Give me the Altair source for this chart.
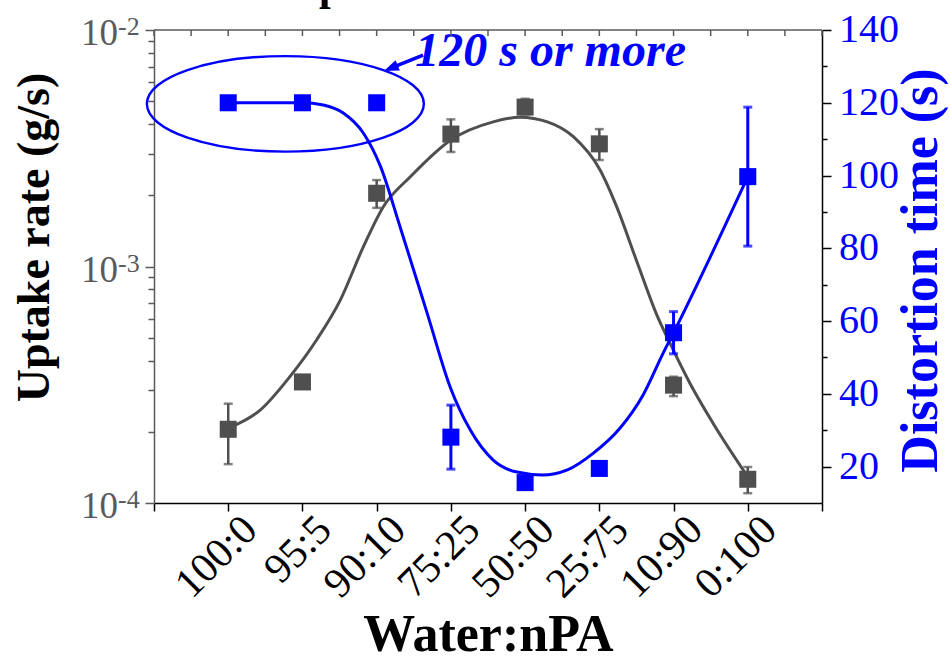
import altair as alt
import pandas as pd

# Water:nPA mixing ratios, placed at positions 1..8 on a 0..9 axis
ratios = ["100:0", "95:5", "90:10", "75:25", "50:50", "25:75", "10:90", "0:100"]
positions = [1, 2, 3, 4, 5, 6, 7, 8]

# Uptake rate (g/s) with error-bar limits
uptake = [2.05e-4, 3.25e-4, 2.04e-3, 3.63e-3, 4.72e-3, 3.30e-3, 3.15e-4, 1.26e-4]
uptake_hi = [2.63e-4, 3.38e-4, 2.32e-3, 4.19e-3, 5.12e-3, 3.81e-3, 3.42e-4, 1.42e-4]
uptake_lo = [1.46e-4, 3.12e-4, 1.77e-3, 3.05e-3, 4.40e-3, 2.82e-3, 2.83e-4, 1.10e-4]

# Distortion time (s) with symmetric errors
distortion = [120, 120, 120, 28.1, 15.6, 19.5, 56.8, 99.7]
distortion_err = [0, 0, 0, 8.8, 0, 0, 5.8, 19.1]

# Trend curves
uptake_fit_x = [1.00, 1.43, 1.83, 2.19, 2.51, 2.82, 3.09, 3.45, 4.00, 4.57, 4.93,
                5.30, 5.65, 6.01, 6.24, 6.51, 6.78, 6.95, 7.22, 7.53, 8.00]
uptake_fit_y = [2.07e-4, 2.47e-4, 3.42e-4, 4.89e-4, 7.21e-4, 1.21e-3, 1.79e-3, 2.39e-3,
                3.43e-3, 4.09e-3, 4.28e-3, 4.09e-3, 3.54e-3, 2.56e-3, 1.77e-3, 1.04e-3,
                6.18e-4, 4.75e-4, 3.21e-4, 2.18e-4, 1.29e-4]
distortion_fit_x = [1.00, 2.00, 2.28, 2.55, 2.82, 3.05, 3.32, 3.68, 3.99, 4.26, 4.57,
                    4.89, 5.23, 5.57, 5.92, 6.28, 6.59, 6.86, 7.00, 8.00]
distortion_fit_y = [120, 120, 119.4, 117.2, 111.7, 102.6, 85.6, 62.2, 41.9, 30.1, 21.8,
                    18.5, 17.7, 19.1, 23.7, 30.6, 39.7, 51.2, 56.8, 99.7]

# Axis tick positions and labels
decades = [1e-4, 1e-3, 1e-2]
decade_exp = ["-4", "-3", "-2"]
left_tick_values = [m * d for d in [1e-4, 1e-3] for m in range(1, 10)] + [1e-2]
right_tick_values = list(range(20, 141, 10))
right_label_values = list(range(20, 141, 20))
top_tick_values = [i / 2 for i in range(19)]

# Annotation around the capped (>=120 s) points
note_text = "120 s or more"
note_x, note_y = 3.52, 130.1
ring_x, ring_y = 1.77, 119.7
arrow_x = [3.625, 3.19]
arrow_y = [133.1, 129.5]
title_text = "Solvent uptake rate vs. distortion time"

W, H = 668, 473
GRAY = "#4f4f4f"
GRAY_AXIS = "#5a5a5a"
BLUE = "#0000ff"
FONT = "Liberation Serif"

pts = pd.DataFrame({
    "x": positions, "ratio": ratios,
    "uptake": uptake, "lo": uptake_lo, "hi": uptake_hi,
    "dist": distortion,
    "dlo": [d - e for d, e in zip(distortion, distortion_err)],
    "dhi": [d + e for d, e in zip(distortion, distortion_err)],
    "derr": distortion_err,
})
uptake_fit = pd.DataFrame({"x": uptake_fit_x, "uptake": uptake_fit_y})
dist_fit = pd.DataFrame({"x": distortion_fit_x, "dist": distortion_fit_y})
decade_df = pd.DataFrame({"v": decades, "exp": decade_exp})
right_lab_df = pd.DataFrame({"dist": right_label_values,
                             "t": [str(v) for v in right_label_values]})

x_axis = alt.Axis(
    values=list(range(10)), labels=False,
    tickSize=8, tickWidth=1.5, tickColor="black",
    domainColor="black", domainWidth=1.5, grid=False,
    title="Water:nPA", titleFont=FONT, titleFontSize=52, titleFontWeight="bold",
    titleColor="black", titleX=W / 2, titleY=147, titleBaseline="alphabetic",
)
x_scale = alt.Scale(domain=[0, 9], nice=False, zero=False)


def X(field="x"):
    return alt.X(f"{field}:Q", scale=x_scale, axis=x_axis)


left_scale = alt.Scale(type="log", domain=[1e-4, 1e-2], nice=False)
left_axis = alt.Axis(
    orient="left", values=left_tick_values, labels=False,
    tickSize={"condition": {"test": "datum.value == 0.0001 || datum.value == 0.001 || datum.value == 0.01",
                            "value": 9}, "value": 6},
    tickColor=GRAY_AXIS, tickWidth=1.5, domainColor=GRAY_AXIS, domainWidth=1.5, grid=False,
    title="Uptake rate (g/s)", titleFont=FONT, titleFontSize=46, titleFontWeight="bold",
    titleColor="black", titleAngle=270, titleX=-106, titleY=207,
    titleAlign="center", titleBaseline="alphabetic",
)


def YL(field):
    return alt.Y(f"{field}:Q", scale=left_scale, axis=left_axis)


right_scale = alt.Scale(domain=[10, 140], nice=False, zero=False)
right_axis = alt.Axis(
    orient="right", values=right_tick_values, labels=False,
    tickSize={"condition": {"test": "datum.value % 20 == 0", "value": 9}, "value": 5},
    tickColor="black", tickWidth=1.5, domainColor="black", domainWidth=1.5, grid=False,
    title="Distortion time (s)", titleFont=FONT, titleFontSize=52, titleFontWeight="bold",
    titleColor=BLUE, titleAngle=270, titleX=114, titleY=240,
    titleAlign="center", titleBaseline="alphabetic",
)


def YR(field):
    return alt.Y(f"{field}:Q", scale=right_scale, axis=right_axis)


# ---- uptake rate (left, log scale) ----
g_base = alt.Chart(pts)
g_line = alt.Chart(uptake_fit).mark_line(color=GRAY, strokeWidth=3, interpolate="monotone").encode(
    x=X(), y=YL("uptake"))
g_err = g_base.mark_rule(color=GRAY, strokeWidth=2.5).encode(x=X(), y=YL("lo"), y2="hi:Q")
g_cap_hi = g_base.mark_tick(orient="horizontal", size=9, thickness=2.5, color=GRAY).encode(
    x=X(), y=YL("hi"))
g_cap_lo = g_base.mark_tick(orient="horizontal", size=9, thickness=2.5, color=GRAY).encode(
    x=X(), y=YL("lo"))
g_pts = g_base.mark_square(size=290, color=GRAY, opacity=1).encode(x=X(), y=YL("uptake"))
dec_base = alt.Chart(decade_df)
dec_ten = dec_base.mark_text(text="10", align="right", baseline="alphabetic", dy=15,
                             font=FONT, fontSize=37, color=GRAY_AXIS).encode(
    x=alt.value(-36), y=YL("v"))
dec_exp = dec_base.mark_text(align="left", baseline="alphabetic", dy=5,
                             font=FONT, fontSize=26, color=GRAY_AXIS).encode(
    x=alt.value(-36), y=YL("v"), text="exp:N")
# slanted category labels under the x axis
x_labels = g_base.mark_text(align="right", baseline="middle", angle=315, xOffset=22,
                            font=FONT, fontSize=42, color="black").encode(
    x=X(), y=alt.value(H + 20), text="ratio:N")
left_group = alt.layer(g_line, g_err, g_cap_hi, g_cap_lo, g_pts, dec_ten, dec_exp, x_labels)

# ---- distortion time (right, linear scale) ----
b_err_df = pts[pts["derr"] > 0]
b_line = alt.Chart(dist_fit).mark_line(color=BLUE, strokeWidth=3, interpolate="monotone").encode(
    x=X(), y=YR("dist"))
b_err = alt.Chart(b_err_df).mark_rule(color=BLUE, strokeWidth=3).encode(
    x=X(), y=YR("dlo"), y2="dhi:Q")
b_cap_hi = alt.Chart(b_err_df).mark_tick(orient="horizontal", size=9, thickness=3, color=BLUE).encode(
    x=X(), y=YR("dhi"))
b_cap_lo = alt.Chart(b_err_df).mark_tick(orient="horizontal", size=9, thickness=3, color=BLUE).encode(
    x=X(), y=YR("dlo"))
b_pts = alt.Chart(pts).mark_square(size=290, color=BLUE, opacity=1).encode(x=X(), y=YR("dist"))
right_labels = alt.Chart(right_lab_df).mark_text(
    align="left", baseline="middle", font=FONT, fontSize=40, color=BLUE).encode(
    x=alt.value(W + 17), y=YR("dist"), text="t:N")

ellipse_path = ("M-1,0 C-1,-0.1905 -0.5523,-0.345 0,-0.345 C0.5523,-0.345 1,-0.1905 1,0 "
                "C1,0.1905 0.5523,0.345 0,0.345 C-0.5523,0.345 -1,0.1905 -1,0 Z")
ring = alt.Chart(pd.DataFrame({"x": [ring_x], "dist": [ring_y]})).mark_point(
    shape=ellipse_path, size=277 ** 2, filled=False, color=BLUE, strokeWidth=2.4, opacity=1).encode(
    x=X(), y=YR("dist"))
arrow_df = pd.DataFrame({"x": arrow_x, "dist": arrow_y})
arrow_line = alt.Chart(arrow_df).mark_line(color=BLUE, strokeWidth=3.5).encode(x=X(), y=YR("dist"))
arrow_head = alt.Chart(arrow_df.iloc[[1]]).mark_point(
    shape="M0,-1 L0.75,1 L-0.75,1 Z", size=15 ** 2, filled=True, color=BLUE, opacity=1,
    angle=248, strokeWidth=0).encode(x=X(), y=YR("dist"))
note = alt.Chart(pd.DataFrame({"x": [note_x], "dist": [note_y], "t": [note_text]})).mark_text(
    align="left", baseline="alphabetic", font=FONT, fontSize=48, fontStyle="italic",
    fontWeight="bold", color=BLUE).encode(x=X(), y=YR("dist"), text="t:N")
right_group = alt.layer(b_line, b_err, b_cap_hi, b_cap_lo, b_pts, right_labels,
                        ring, arrow_line, arrow_head, note)

# ---- frame: top border with inward ticks, and heading ----
top_border = alt.Chart(pd.DataFrame({"x": [0]})).mark_rule(color=GRAY_AXIS, strokeWidth=1.5).encode(
    x=alt.value(0), x2=alt.value(W), y=alt.value(0))
top_ticks = alt.Chart(pd.DataFrame({"x": top_tick_values})).mark_rule(
    color=GRAY_AXIS, strokeWidth=1.5).encode(x=X(), y=alt.value(0), y2=alt.value(6))
heading = alt.Chart(pd.DataFrame({"t": [title_text]})).mark_text(
    align="center", baseline="alphabetic", font=FONT, fontSize=42, fontWeight="bold",
    color="black").encode(x=alt.value(340), y=alt.value(-30), text="t:N")

chart = alt.layer(left_group, right_group, top_border, top_ticks, heading).resolve_scale(
    y="independent"
).properties(
    width=W, height=H,
    padding={"left": 154, "top": 30, "right": 127, "bottom": 157},
    autosize=alt.AutoSizeParams(type="none"),
    background="white",
).configure_view(stroke=None).configure_axis(
    labelFont=FONT, titleFont=FONT
)

chart.save("out.html", embed_options={"renderer": "svg", "actions": False})
